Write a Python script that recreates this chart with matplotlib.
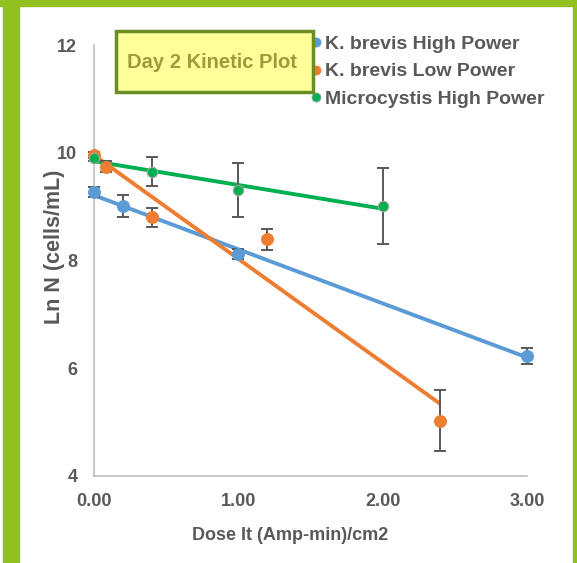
import matplotlib

matplotlib.use("Agg")
import matplotlib.pyplot as plt
import numpy as np
from matplotlib.lines import Line2D
from matplotlib.patches import Rectangle

plt.rcParams["font.family"] = ["Liberation Sans", "DejaVu Sans"]
plt.rcParams["font.weight"] = "bold"
plt.rcParams["axes.labelweight"] = "bold"

# --- data ------------------------------------------------------------------
kb_high_x = [0.0, 0.2, 1.0, 3.0]
kb_high_y = [9.27, 9.01, 8.12, 6.23]
kb_high_err = [0.10, 0.20, 0.10, 0.15]

kb_low_x = [0.0, 0.08, 0.4, 1.2, 2.4]
kb_low_y = [9.96, 9.74, 8.80, 8.39, 5.03]
kb_low_err = [0.05, 0.10, 0.18, 0.20, 0.56]

mc_high_x = [0.0, 0.4, 1.0, 2.0]
mc_high_y = [9.90, 9.65, 9.31, 9.01]
mc_high_err = [0.05, 0.27, 0.50, 0.70]

series_labels = ["K. brevis High Power", "K. brevis Low Power", "Microcystis High Power"]
x_ticks = [0, 1, 2, 3]
x_tick_labels = ["0.00", "1.00", "2.00", "3.00"]
y_ticks = [4, 6, 8, 10, 12]

BLUE = "#5B9BD5"
ORANGE = "#ED7D31"
GREEN = "#00B050"
GREY_TXT = "#595959"
ERR = "#595959"

W, H = 577, 563
fig = plt.figure(figsize=(W / 100, H / 100), dpi=100)
fig.patch.set_facecolor("white")

# green slide frame
frame_kw = dict(transform=fig.transFigure, color="#92C01F", zorder=0)
fig.patches.append(Rectangle((0, 1 - 6 / H), 1, 6 / H, **frame_kw))
fig.patches.append(Rectangle((3 / W, 0), 16 / W, 1, **frame_kw))
fig.patches.append(Rectangle((573 / W, 0), 4 / W, 1, **frame_kw))

ax = fig.add_axes([94 / W, (H - 476) / H, 433 / W, 431 / H])

series = [
    (kb_high_x, kb_high_y, kb_high_err, BLUE, BLUE, 8.5),
    (kb_low_x, kb_low_y, kb_low_err, ORANGE, ORANGE, 8.5),
    (mc_high_x, mc_high_y, mc_high_err, GREEN, "#A6A6A6", 7.5),
]

handles = []
for (xs, ys, es, col, edge, ms), lab in zip(series, series_labels):
    xs = np.asarray(xs)
    ys = np.asarray(ys)
    # Excel-style linear trendline over the data span
    k, b = np.polyfit(xs, ys, 1)
    xx = np.array([xs.min(), xs.max()])
    ax.plot(xx, k * xx + b, color=col, lw=2.8, zorder=3, solid_capstyle="butt")
    ax.errorbar(xs, ys, yerr=es, fmt="none", ecolor=ERR, elinewidth=1.4,
                capsize=4.5, capthick=1.4, zorder=4, clip_on=False)
    ax.plot(xs, ys, "o", color=col, ms=ms, mec=edge, mew=0.8, zorder=5,
            clip_on=False)
    handles.append(Line2D([], [], ls="none", marker="o", color=col, ms=6.5,
                          mec=edge, mew=0.6))

ax.set_xlim(0, 3)
ax.set_ylim(4, 12)
ax.set_xticks(x_ticks)
ax.set_xticklabels(x_tick_labels)
ax.set_yticks(y_ticks)
ax.tick_params(length=0, labelsize=13, labelcolor=GREY_TXT)
ax.tick_params(axis="y", pad=12)
ax.tick_params(axis="x", pad=12)
for s_ in ("top", "right"):
    ax.spines[s_].set_visible(False)
for s_ in ("left", "bottom"):
    ax.spines[s_].set_color("#BFBFBF")
    ax.spines[s_].set_linewidth(1.2)

ax.set_xlabel("Dose It (Amp-min)/cm2", fontsize=13, color=GREY_TXT)
ax.xaxis.set_label_coords((290 - 94) / 433, (476 - 527) / 431)
ax.set_ylabel("Ln N (cells/mL)", fontsize=15.5, color=GREY_TXT)
ax.yaxis.set_label_coords((65 - 94) / 433, (476 - 247) / 431)

# title box
fig.patches.append(Rectangle((116 / W, 1 - 92 / H), 197 / W, 61 / H,
                             transform=fig.transFigure, facecolor="#FFFF99",
                             edgecolor="#6B8E23", lw=2.5, zorder=6))
fig.text(212 / W, 1 - 63 / H, "Day 2 Kinetic Plot", fontsize=14.5,
         fontweight="bold", color="#9C9C3E", ha="center", va="center",
         zorder=7)

leg = ax.legend(handles, series_labels, loc="upper left",
                bbox_to_anchor=(311 / W, 1 - 35 / H),
                bbox_transform=fig.transFigure, frameon=False,
                prop=dict(size=14, weight="bold"), handlelength=0.5,
                handletextpad=0.22, labelspacing=0.52, borderpad=0,
                borderaxespad=0)
for t in leg.get_texts():
    t.set_color(GREY_TXT)

fig.savefig("out.png", dpi=100)
